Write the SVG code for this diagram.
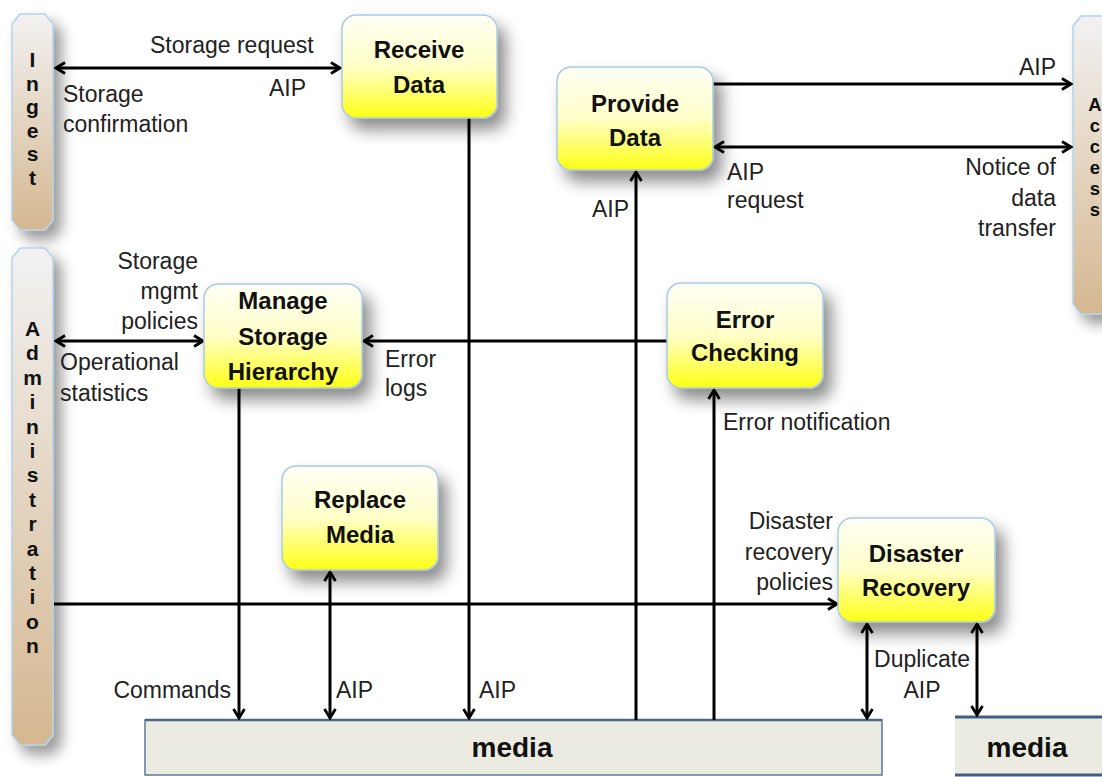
<svg xmlns="http://www.w3.org/2000/svg" width="1102" height="777" viewBox="0 0 1102 777">
<style>
.lbl{font-family:"Liberation Sans",Arial,sans-serif;font-size:23px;fill:#222}
.ttl{font-family:"Liberation Sans",Arial,sans-serif;font-size:24px;font-weight:bold;fill:#111;text-anchor:middle}
.bar{font-family:"Liberation Sans",Arial,sans-serif;font-size:21px;font-weight:bold;fill:#111;text-anchor:middle}
.bar2{font-family:"Liberation Sans",Arial,sans-serif;font-size:18.5px;font-weight:bold;fill:#111;text-anchor:middle}
.med{font-family:"Liberation Sans",Arial,sans-serif;font-size:28px;font-weight:bold;fill:#111;text-anchor:middle}
.node{fill:url(#yel);stroke:#a8cbe4;stroke-width:1.5;filter:url(#sh)}
.side{fill:url(#tan);stroke:#b3d2ea;stroke-width:1.5;filter:url(#sh2)}
.c{fill:none;stroke:#000;stroke-width:3}
.a{marker-end:url(#ah)}
.d{marker-start:url(#ah);marker-end:url(#ah)}
</style>
<defs>
<linearGradient id="yel" x1="0" y1="0" x2="0" y2="1">
<stop offset="0" stop-color="#fffff6"/>
<stop offset="0.5" stop-color="#ffffc8"/>
<stop offset="1" stop-color="#ffff14"/>
</linearGradient>
<linearGradient id="tan" x1="0" y1="0" x2="0" y2="1">
<stop offset="0" stop-color="#f2f2f2"/>
<stop offset="1" stop-color="#d5b790"/>
</linearGradient>
<filter id="sh" x="-30%" y="-30%" width="180%" height="180%">
<feDropShadow dx="8" dy="11" stdDeviation="8" flood-color="#000" flood-opacity="0.45"/>
</filter>
<filter id="sh2" x="-50%" y="-10%" width="250%" height="130%">
<feDropShadow dx="8" dy="9" stdDeviation="7" flood-color="#000" flood-opacity="0.4"/>
</filter>
<marker id="ah" viewBox="0 0 14 14" refX="12" refY="7" markerWidth="14" markerHeight="14" markerUnits="userSpaceOnUse" orient="auto-start-reverse">
<path d="M3,1.5 L12,7 L3,12.5" fill="none" stroke="#000" stroke-width="2.8"/>
</marker>
</defs>
<rect width="1102" height="777" fill="#fff"/>

<g id="ingest">
<polygon class="side" points="20,14 45,14 53,24 53,220 45,230 20,230 12,220 12,24"/>
<text class="bar" x="32.5" y="67"><tspan x="32.5">I</tspan><tspan x="32.5" dy="23.6">n</tspan><tspan x="32.5" dy="23.6">g</tspan><tspan x="32.5" dy="23.6">e</tspan><tspan x="32.5" dy="23.6">s</tspan><tspan x="32.5" dy="23.6">t</tspan></text>
</g>

<g id="administration">
<polygon class="side" points="20,248 45,248 53,258 53,735 45,745 20,745 12,735 12,258"/>
<text class="bar" x="32.5" y="336"><tspan x="32.5">A</tspan><tspan x="32.5" dy="24.4">d</tspan><tspan x="32.5" dy="24.4">m</tspan><tspan x="32.5" dy="24.4">i</tspan><tspan x="32.5" dy="24.4">n</tspan><tspan x="32.5" dy="24.4">i</tspan><tspan x="32.5" dy="24.4">s</tspan><tspan x="32.5" dy="24.4">t</tspan><tspan x="32.5" dy="24.4">r</tspan><tspan x="32.5" dy="24.4">a</tspan><tspan x="32.5" dy="24.4">t</tspan><tspan x="32.5" dy="24.4">i</tspan><tspan x="32.5" dy="24.4">o</tspan><tspan x="32.5" dy="24.4">n</tspan></text>
</g>

<g id="access">
<polygon class="side" points="1081,16 1120,16 1120,314 1081,314 1073,304 1073,26"/>
<text class="bar2" x="1095" y="111"><tspan x="1095">A</tspan><tspan x="1095" dy="21">c</tspan><tspan x="1095" dy="21">c</tspan><tspan x="1095" dy="21">e</tspan><tspan x="1095" dy="21">s</tspan><tspan x="1095" dy="21">s</tspan></text>
</g>

<g id="media-main">
<rect x="145" y="720" width="737" height="55" fill="#ecebe1" stroke="#5d7896" stroke-width="1.5"/>
<line x1="145" y1="720" x2="882" y2="720" stroke="#4a6788" stroke-width="2.5"/>
<text class="med" x="512" y="757">media</text>
</g>

<g id="media-dup">
<rect x="955" y="717" width="160" height="58" fill="#ecebe1"/>
<line x1="955" y1="717" x2="1102" y2="717" stroke="#3f5d80" stroke-width="3"/>
<line x1="955" y1="775" x2="1102" y2="775" stroke="#3f5d80" stroke-width="3"/>
<text class="med" x="1027" y="757">media</text>
</g>

<g id="connectors">
<line class="c d" x1="56" y1="68" x2="340" y2="68"/>
<line class="c a" x1="469" y1="118" x2="469" y2="718"/>
<line class="c a" x1="713" y1="84" x2="1071" y2="84"/>
<line class="c d" x1="715" y1="147" x2="1071" y2="147"/>
<line class="c a" x1="636" y1="720" x2="636" y2="172"/>
<line class="c d" x1="56" y1="341" x2="203" y2="341"/>
<line class="c a" x1="667" y1="341" x2="364" y2="341"/>
<line class="c a" x1="239" y1="388" x2="239" y2="718"/>
<line class="c d" x1="330" y1="572" x2="330" y2="718"/>
<line class="c a" x1="714" y1="720" x2="714" y2="390"/>
<line class="c a" x1="54" y1="604" x2="837" y2="604"/>
<line class="c d" x1="867" y1="624" x2="867" y2="718"/>
<line class="c d" x1="977" y1="624" x2="977" y2="715"/>
</g>

<g id="receive-data">
<rect class="node" x="342" y="15" width="155" height="103" rx="14"/>
<text class="ttl" x="419" y="58">Receive</text>
<text class="ttl" x="419" y="93">Data</text>
</g>

<g id="provide-data">
<rect class="node" x="557" y="67" width="156" height="103" rx="14"/>
<text class="ttl" x="635" y="112">Provide</text>
<text class="ttl" x="635" y="146">Data</text>
</g>

<g id="manage-storage-hierarchy">
<rect class="node" x="204" y="284" width="158" height="104" rx="14"/>
<text class="ttl" x="283" y="309">Manage</text>
<text class="ttl" x="283" y="345">Storage</text>
<text class="ttl" x="283" y="380">Hierarchy</text>
</g>

<g id="error-checking">
<rect class="node" x="667" y="283" width="156" height="105" rx="14"/>
<text class="ttl" x="745" y="328">Error</text>
<text class="ttl" x="745" y="361">Checking</text>
</g>

<g id="replace-media">
<rect class="node" x="282" y="466" width="156" height="104" rx="14"/>
<text class="ttl" x="360" y="508">Replace</text>
<text class="ttl" x="360" y="543">Media</text>
</g>

<g id="disaster-recovery">
<rect class="node" x="838" y="518" width="157" height="104" rx="14"/>
<text class="ttl" x="916" y="562">Disaster</text>
<text class="ttl" x="916" y="596">Recovery</text>
</g>

<g id="labels">
<text class="lbl" x="150" y="53">Storage request</text>
<text class="lbl" x="306" y="96" text-anchor="end">AIP</text>
<text class="lbl" x="63" y="102">Storage</text>
<text class="lbl" x="63" y="132">confirmation</text>
<text class="lbl" x="1056" y="75" text-anchor="end">AIP</text>
<text class="lbl" x="727" y="180">AIP</text>
<text class="lbl" x="727" y="208">request</text>
<text class="lbl" x="1056" y="175" text-anchor="end">Notice of</text>
<text class="lbl" x="1056" y="206" text-anchor="end">data</text>
<text class="lbl" x="1056" y="236" text-anchor="end">transfer</text>
<text class="lbl" x="592" y="217">AIP</text>
<text class="lbl" x="198" y="269" text-anchor="end">Storage</text>
<text class="lbl" x="198" y="299" text-anchor="end">mgmt</text>
<text class="lbl" x="198" y="329" text-anchor="end">policies</text>
<text class="lbl" x="60" y="370">Operational</text>
<text class="lbl" x="60" y="401">statistics</text>
<text class="lbl" x="385" y="367">Error</text>
<text class="lbl" x="385" y="396">logs</text>
<text class="lbl" x="723" y="430">Error notification</text>
<text class="lbl" x="833" y="529" text-anchor="end">Disaster</text>
<text class="lbl" x="833" y="560" text-anchor="end">recovery</text>
<text class="lbl" x="833" y="590" text-anchor="end">policies</text>
<text class="lbl" x="922" y="667" text-anchor="middle">Duplicate</text>
<text class="lbl" x="922" y="698" text-anchor="middle">AIP</text>
<text class="lbl" x="231" y="698" text-anchor="end">Commands</text>
<text class="lbl" x="336" y="698">AIP</text>
<text class="lbl" x="479" y="698">AIP</text>
</g>
</svg>
